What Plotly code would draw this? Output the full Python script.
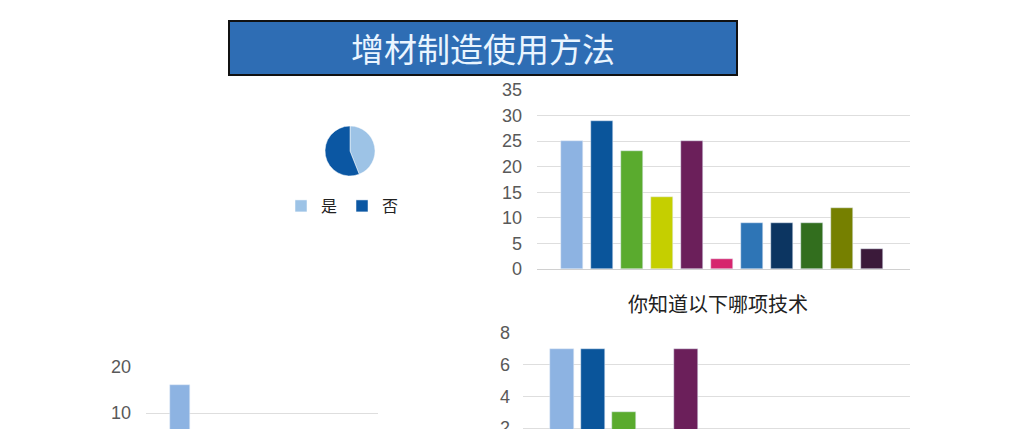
import plotly.graph_objects as go

W, H = 1010, 429
PAGE_OFF = 8  # page margin around the plot div

# pie: 是 / 否
pie_labels = ["是", "否"]
pie_values = [44, 56]
pie_colors = ["#9dc3e6", "#0b57a3"]

# top right: 你知道以下哪项技术
tech_idx = list(range(11))
tech_counts = [25, 29, 23, 14, 25, 2, 9, 9, 9, 12, 4]
tech_colors = ["#8db3e2", "#0a559b", "#5aab2e", "#c5cf00", "#6b1f5a", "#d6266e",
               "#2e75b6", "#0c3561", "#326e1e", "#768000", "#3b1a3a"]

# bottom right (cut off at the bottom)
use_counts = [7, 7, 3, 1, 7, 1, 1, 0, 1, 1, 0]

# bottom left (cut off at the bottom)
left_idx = [0, 1, 2, 3]
left_counts = [16, 4, 2, 5]


def px(x):
    return (x - PAGE_OFF) / W


def py(y):
    return 1 - (y - PAGE_OFF) / H


tick_font = dict(family="Liberation Sans, Arial", size=18, color="#595959")

fig = go.Figure()

fig.add_trace(go.Pie(labels=pie_labels, values=pie_values, sort=False,
                     direction="clockwise", rotation=0,
                     marker=dict(colors=pie_colors, line=dict(color="white", width=0.5)),
                     textinfo="none", hoverinfo="label+value",
                     domain=dict(x=[px(325), px(375)], y=[py(176), py(126)])))

fig.add_trace(go.Bar(x=tech_idx, y=tech_counts, marker_color=tech_colors,
                     width=0.73, showlegend=False, xaxis="x", yaxis="y"))
fig.add_trace(go.Bar(x=tech_idx, y=use_counts, marker_color=tech_colors,
                     width=0.77, showlegend=False, xaxis="x2", yaxis="y2"))
fig.add_trace(go.Bar(x=left_idx, y=left_counts, marker_color="#8db3e2",
                     width=0.345, showlegend=False, xaxis="x3", yaxis="y3"))

grid = "#dedede"
axis_common = dict(automargin=False, zeroline=False)
bottom = H + PAGE_OFF  # screen y of the paper bottom
fig.update_layout(
    width=W, height=H,
    margin=dict(l=0, r=0, t=0, b=0, autoexpand=False),
    paper_bgcolor="white", plot_bgcolor="white",
    font=dict(family="Noto Sans CJK SC"),
    bargap=0,
    # top right
    xaxis=dict(domain=[px(537), px(910)], range=[-1.17, 11.27],
               showticklabels=False, showgrid=False,
               showline=True, linecolor="#d0d0d0", linewidth=1, anchor="y", **axis_common),
    yaxis=dict(domain=[py(269), py(90)], range=[0, 35], dtick=5,
               tickfont=tick_font, gridcolor=grid,
               ticklabelstandoff=14, anchor="x", **axis_common),
    # bottom right: 8 at y=333, 0 at y=459.7
    xaxis2=dict(domain=[px(523), px(910)], range=[-1.26, 11.2],
                showticklabels=False, showgrid=False, anchor="y2", **axis_common),
    yaxis2=dict(domain=[0, py(333)], range=[(459.7 - bottom) / 15.83, 8], dtick=2,
                tickfont=tick_font, gridcolor=grid, ticklabeloverflow="allow",
                ticklabelstandoff=12, anchor="x2", **axis_common),
    # bottom left: 20 at y=367, 0 at y=459
    xaxis3=dict(domain=[px(146), px(378)], range=[-0.586, 3.41],
                showticklabels=False, showgrid=False, anchor="y3", **axis_common),
    yaxis3=dict(domain=[0, py(367)], range=[(459 - bottom) / 4.6, 20], dtick=10,
                tickfont=tick_font, gridcolor=grid, ticklabeloverflow="allow",
                ticklabelstandoff=14, anchor="x3", **axis_common),
    legend=dict(orientation="h", x=px(281), y=py(189), xanchor="left", yanchor="top",
                font=dict(family="Noto Sans CJK SC", size=16, color="#222"),
                itemwidth=30, bgcolor="rgba(0,0,0,0)"),
)

# title banner
fig.add_shape(type="rect", xref="paper", yref="paper",
              x0=px(229), x1=px(737), y0=py(75), y1=py(21),
              fillcolor="#2e6db4", line=dict(color="#111", width=2), layer="below")
fig.add_annotation(text="增材制造使用方法", xref="paper", yref="paper",
                   x=px(483), y=py(48), xanchor="center", yanchor="middle", showarrow=False,
                   font=dict(family="Noto Sans CJK SC", size=33, color="#eaf5ff"))

fig.add_annotation(text="你知道以下哪项技术", xref="paper", yref="paper",
                   x=px(718), y=py(303), xanchor="center", yanchor="middle", showarrow=False,
                   font=dict(family="Noto Sans CJK SC", size=20, color="#222"))

fig.write_html("out.html")
